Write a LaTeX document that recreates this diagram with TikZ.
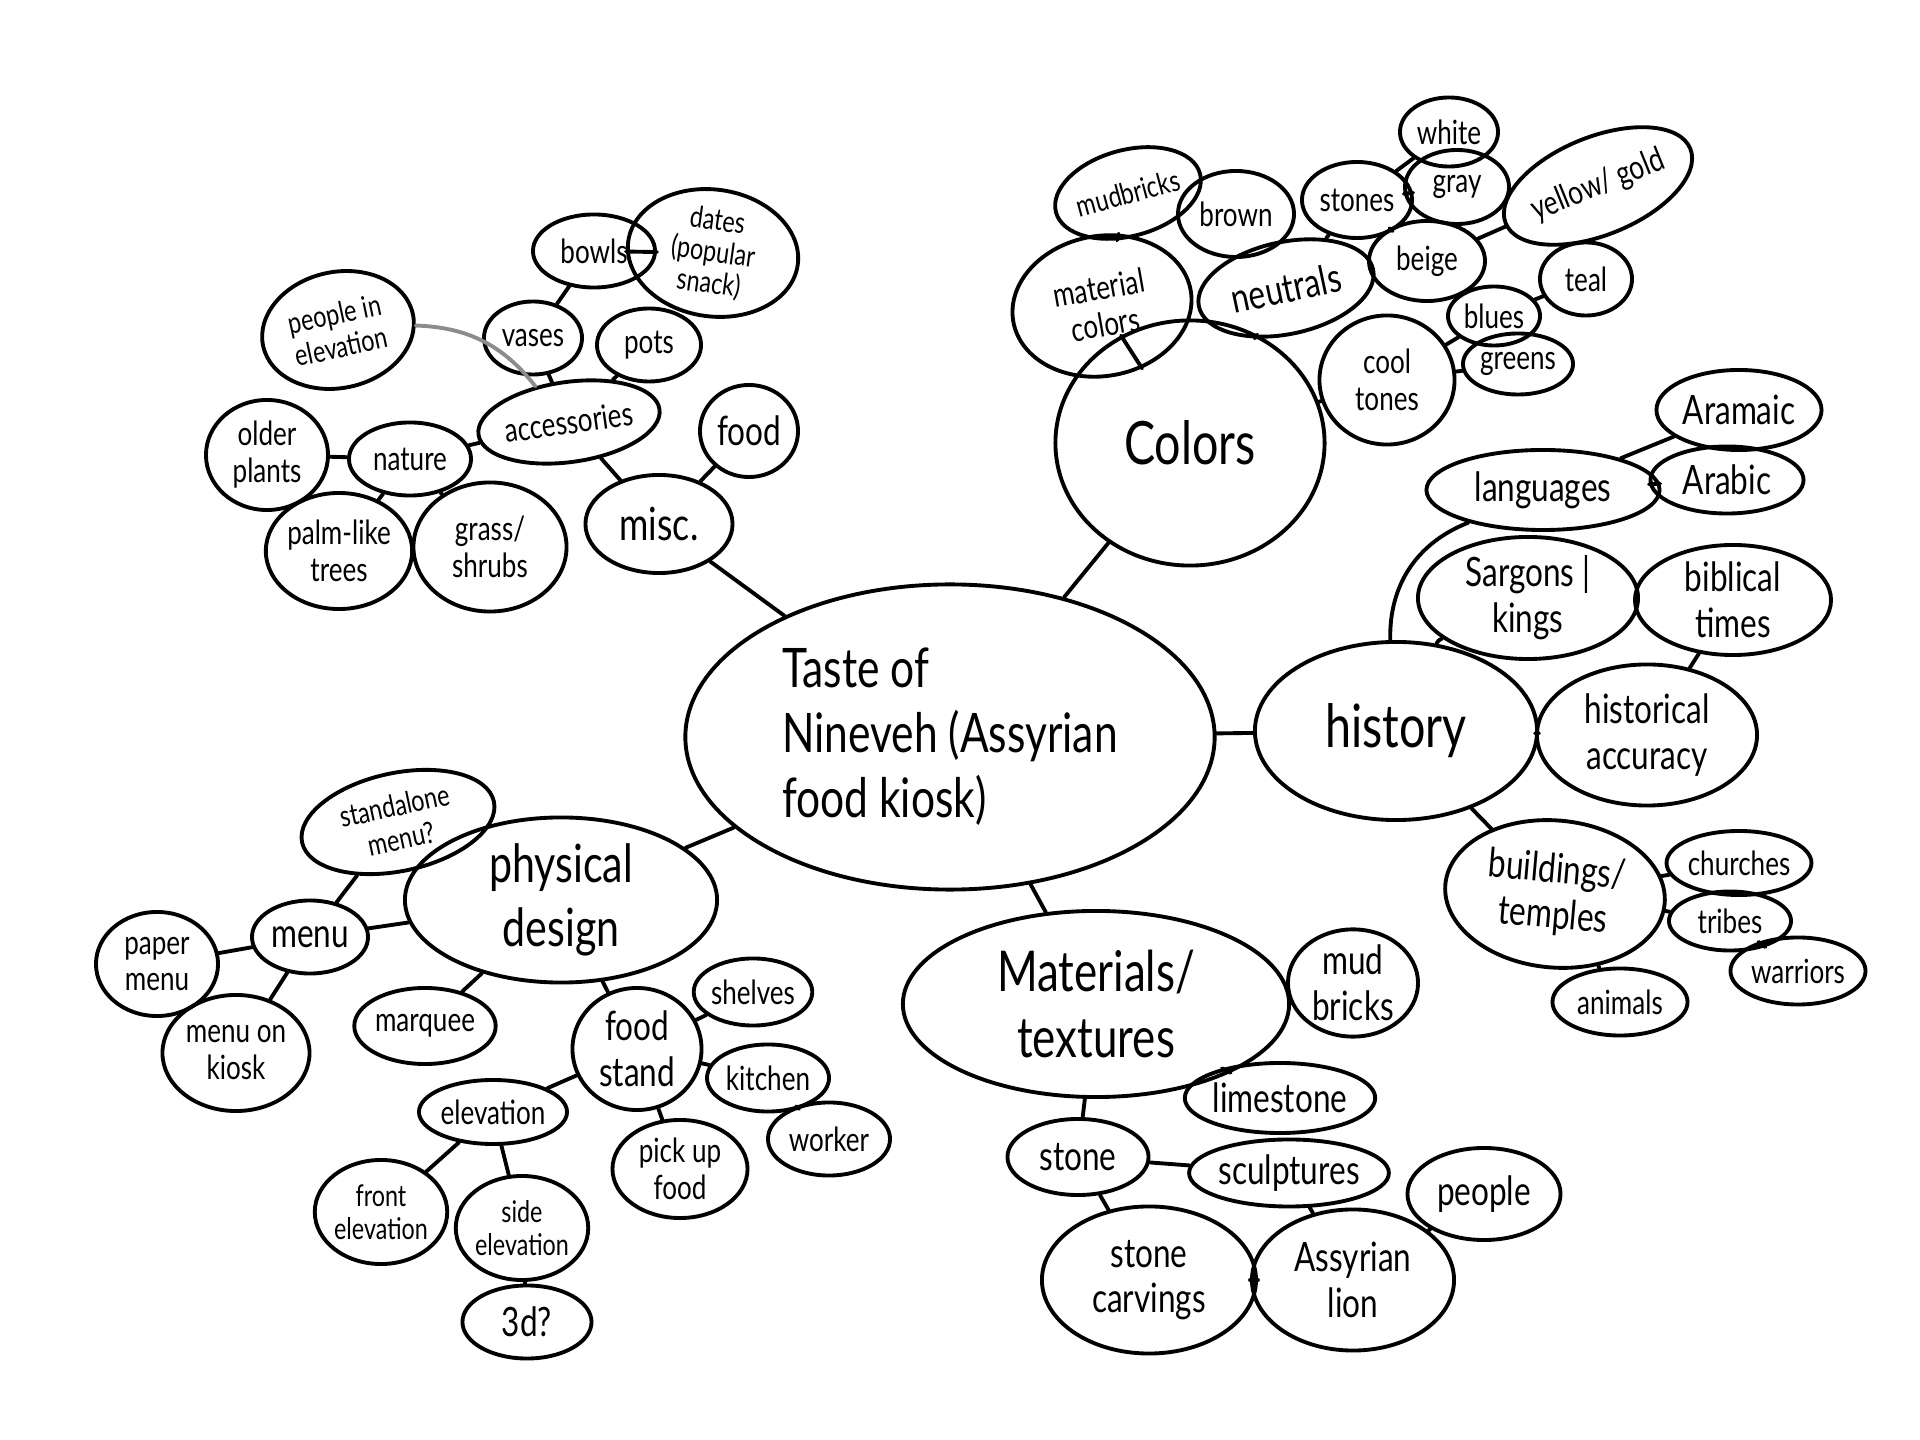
\documentclass[tikz,border=0pt]{standalone}
\usepackage{fontspec}
\setmainfont{Lato}[FakeStretch=0.78]
\usetikzlibrary{shapes.geometric}

\begin{document}
\begin{tikzpicture}[
        x=0.01cm, y=-0.01cm,
        bubble/.style={ellipse, draw=black, line width=1.1pt, inner sep=0pt, align=center, font=\fontsize{9.5}{10.5}\selectfont},
        mid/.style={bubble, font=\fontsize{11.5}{13}\selectfont},
        big/.style={bubble, font=\fontsize{17}{19}\selectfont},
        sz/.style 2 args={minimum width=#1cm, minimum height=#2cm},
        link/.style={line width=1.1pt, line cap=round},
        faint/.style={link, draw=black!45}
    ]
    \fill[white] (0,0) rectangle (1920,1440);

    \node[bubble, sz={5.29}{3.05}, align=left, font=\fontsize{15.5}{18.5}\selectfont] (kiosk) at (950,737) {Taste of\\Nineveh (Assyrian\\food kiosk)};

    \node[big, sz={2.69}{2.45}] (colors) at (1190,443) {Colors};
    \node[bubble, sz={1.80}{1.40}, rotate=10] (matcol) at (1102,306) {material\\colors};
    \node[bubble, sz={1.47}{0.86}, rotate=15, font=\fontsize{8.5}{9.5}\selectfont] (mudb) at (1128,193) {mudbricks};
    \node[bubble, sz={1.16}{0.86}] (brown) at (1236,214) {brown};
    \node[mid, sz={1.78}{0.92}, rotate=12] (neutrals) at (1286,288) {neutrals};
    \node[bubble, sz={1.10}{0.76}] (stones) at (1357,200) {stones};
    \node[bubble, sz={0.98}{0.69}] (white) at (1449,132) {white};
    \node[bubble, sz={1.04}{0.74}] (gray) at (1457,187) {gray};
    \node[bubble, sz={1.16}{0.80}] (beige) at (1427,261) {beige};
    \node[bubble, sz={1.71}{0.98}, rotate=22] (gold) at (1598,186) {yellow/ gold};
    \node[bubble, sz={1.35}{1.29}] (cool) at (1387,380) {cool\\tones};
    \node[bubble, sz={0.92}{0.59}] (blues) at (1494,316) {blues};
    \node[bubble, sz={0.92}{0.73}] (teal) at (1586,279) {teal};
    \node[bubble, sz={1.10}{0.61}] (greens) at (1518,364) {greens};

    \node[big, sz={2.82}{1.78}] (history) at (1396,731) {history};
    \node[mid, sz={2.33}{0.80}] (lang) at (1543,490) {languages};
    \node[mid, sz={1.65}{0.80}] (aramaic) at (1739,410) {Aramaic};
    \node[mid, sz={1.53}{0.67}] (arabic) at (1727,480) {Arabic};
    \node[mid, sz={2.20}{1.22}] (sargons) at (1528,598) {Sargons |\\kings};
    \node[mid, sz={1.96}{1.10}] (biblical) at (1733,600) {biblical\\times};
    \node[mid, sz={2.20}{1.41}] (accuracy) at (1647,735) {historical\\accuracy};
    \node[mid, sz={2.20}{1.47}, rotate=-5] (temples) at (1555,894) {buildings/\\temples};
    \node[bubble, sz={1.29}{0.64}] (churches) at (1739,863) {churches};
    \node[bubble, sz={1.22}{0.59}] (tribes) at (1730,921) {tribes};
    \node[bubble, sz={1.35}{0.67}] (warriors) at (1798,971) {warriors};
    \node[bubble, sz={1.35}{0.67}] (animals) at (1620,1002) {animals};

    \node[big, sz={3.86}{1.86}, font=\fontsize{16}{19}\selectfont] (materials) at (1096,1004) {Materials/\\textures};
    \node[mid, sz={1.30}{0.98}] (bricks) at (1353,983) {mud\\bricks};
    \node[mid, sz={1.78}{0.70}] (limestone) at (1280,1098) {limestone};
    \node[mid, sz={1.41}{0.76}] (stone) at (1078,1157) {stone};
    \node[mid, sz={1.96}{0.67}] (sculpt) at (1289,1173) {sculptures};
    \node[mid, sz={2.14}{1.47}] (carvings) at (1149,1280) {stone\\carvings};
    \node[mid, sz={2.02}{1.41}] (lion) at (1353,1280) {Assyrian\\lion};
    \node[mid, sz={1.53}{0.92}] (people) at (1484,1194) {people};

    \node[big, sz={3.12}{1.65}, font=\fontsize{15}{18}\selectfont] (physical) at (561,900) {physical\\design};
    \node[mid, sz={1.16}{0.73}] (menu) at (310,937) {menu};
    \node[bubble, sz={1.96}{0.98}, rotate=12, font=\fontsize{8.5}{9.5}\selectfont] (standalone) at (398,822) {standalone\\menu?};
    \node[bubble, sz={1.22}{1.04}] (paper) at (157,964) {paper\\menu};
    \node[bubble, sz={1.47}{1.16}] (onkiosk) at (236,1053) {menu on\\kiosk};
    \node[bubble, sz={1.41}{0.76}] (marquee) at (425,1026) {marquee};
    \node[mid, sz={1.29}{1.22}] (stand) at (637,1049) {food\\stand};
    \node[bubble, sz={1.16}{0.67}] (shelves) at (753,992) {shelves};
    \node[bubble, sz={1.22}{0.67}] (kitchen) at (768,1078) {kitchen};
    \node[bubble, sz={1.22}{0.73}] (worker) at (829,1139) {worker};
    \node[bubble, sz={1.35}{0.98}] (pickup) at (680,1169) {pick up\\food};
    \node[bubble, sz={1.47}{0.64}] (elevation) at (493,1112) {elevation};
    \node[bubble, sz={1.29}{1.04}, font=\fontsize{8.5}{9.5}\selectfont] (front) at (381,1212) {front\\elevation};
    \node[bubble, sz={1.29}{1.04}, font=\fontsize{8.5}{9.5}\selectfont] (side) at (522,1228) {side\\elevation};
    \node[mid, sz={1.29}{0.73}] (threed) at (527,1322) {3d?};

    \node[mid, sz={1.47}{0.98}, font=\fontsize{13}{15}\selectfont] (misc) at (659,524) {misc.};
    \node[mid, sz={0.98}{0.92}] (food) at (749,431) {food};
    \node[bubble, sz={1.71}{0.80}, rotate=8] (access) at (569,422) {accessories};
    \node[bubble, sz={0.98}{0.73}] (vases) at (533,338) {vases};
    \node[bubble, sz={1.04}{0.73}] (pots) at (649,345) {pots};
    \node[bubble, sz={1.22}{0.73}] (bowls) at (594,251) {bowls};
    \node[bubble, sz={1.71}{1.22}, rotate=-8, font=\fontsize{8.5}{9}\selectfont] (dates) at (713,253) {dates\\(popular\\snack)};
    \node[bubble, sz={1.22}{0.73}] (nature) at (410,459) {nature};
    \node[bubble, sz={1.53}{1.16}, rotate=12, font=\fontsize{8.5}{9.5}\selectfont] (peopleelev) at (338,330) {people in\\elevation};
    \node[bubble, sz={1.22}{1.10}] (older) at (267,455) {older\\plants};
    \node[bubble, sz={1.41}{1.16}] (palm) at (339,551) {palm-like\\trees};
    \node[bubble, sz={1.53}{1.29}] (grass) at (490,547) {grass/\\shrubs};

    \draw[link] (kiosk) -- (colors);
    \draw[link] (kiosk) -- (history);
    \draw[link] (kiosk) -- (materials);
    \draw[link] (kiosk) -- (physical);
    \draw[link] (kiosk) -- (misc);

    \draw[link] (colors) -- (matcol);
    \draw[link] (colors) -- (neutrals);
    \draw[link] (colors) -- (cool);
    \draw[link] (matcol) -- (mudb);
    \draw[link] (neutrals) -- (stones);
    \draw[link] (stones) -- (white);
    \draw[link] (stones) -- (gray);
    \draw[link] (stones) -- (beige);
    \draw[link] (beige) -- (gold);
    \draw[link] (cool) -- (blues);
    \draw[link] (blues) -- (teal);
    \draw[link] (cool) -- (greens);

    \draw[link] (history) to[bend left=35] (lang);
    \draw[link] (history) to[bend left=20] (sargons);
    \draw[link] (history) -- (accuracy);
    \draw[link] (history) -- (temples);
    \draw[link] (lang) -- (aramaic);
    \draw[link] (lang) -- (arabic);
    \draw[link] (biblical) -- (accuracy);
    \draw[link] (temples) -- (churches);
    \draw[link] (temples) -- (tribes);
    \draw[link] (tribes) -- (warriors);
    \draw[link] (temples) -- (animals);

    \draw[link] (materials) -- (bricks);
    \draw[link] (materials) -- (limestone);
    \draw[link] (materials) -- (stone);
    \draw[link] (stone) -- (sculpt);
    \draw[link] (stone) -- (carvings);
    \draw[link] (sculpt) -- (lion);
    \draw[link] (carvings) -- (lion);
    \draw[link] (lion) -- (people);

    \draw[link] (physical) -- (menu);
    \draw[link] (physical) -- (marquee);
    \draw[link] (physical) -- (stand);
    \draw[link] (menu) -- (standalone);
    \draw[link] (menu) -- (paper);
    \draw[link] (menu) -- (onkiosk);
    \draw[link] (stand) -- (shelves);
    \draw[link] (stand) -- (kitchen);
    \draw[link] (kitchen) -- (worker);
    \draw[link] (stand) -- (pickup);
    \draw[link] (stand) -- (elevation);
    \draw[link] (elevation) -- (front);
    \draw[link] (elevation) -- (side);
    \draw[link] (side) -- (threed);

    \draw[link] (misc) -- (food);
    \draw[link] (misc) -- (access);
    \draw[link] (access) -- (vases);
    \draw[link] (access) -- (pots);
    \draw[link] (vases) -- (bowls);
    \draw[link] (bowls) -- (dates);
    \draw[link] (access) -- (nature);
    \draw[faint] (access) to[bend right=25] (peopleelev);
    \draw[link] (nature) -- (older);
    \draw[link] (nature) -- (palm);
    \draw[link] (nature) -- (grass);
\end{tikzpicture}
\end{document}
